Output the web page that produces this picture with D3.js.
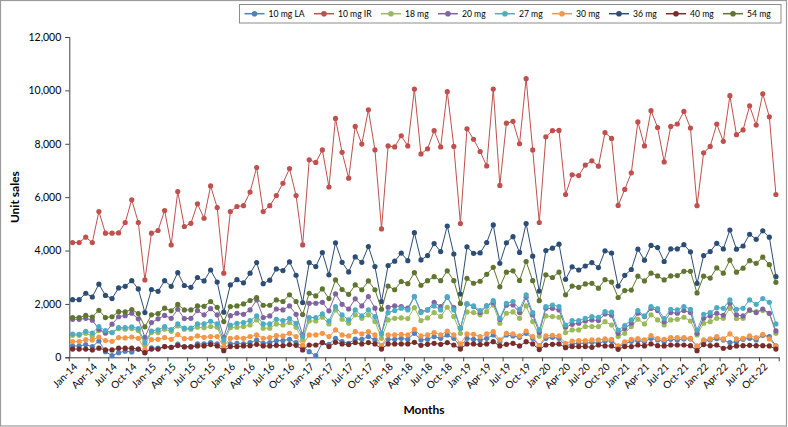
<!DOCTYPE html>
<html>
<head>
<meta charset="utf-8">
<script src="https://cdn.jsdelivr.net/npm/d3@7"></script>
<style>
  body { margin: 0; background: #fff; }
  svg text { font-family: Lato, "Liberation Sans", sans-serif; fill: #000; }
</style>
</head>
<body>
<div id="chart"></div>
<script>
// months Jan-14 .. Dec-22
const monthNames = ["Jan","Feb","Mar","Apr","May","Jun","Jul","Aug","Sep","Oct","Nov","Dec"];
const years = ["14","15","16","17","18","19","20","21","22"];
const months = years.flatMap(y => monthNames.map(m => `${m}-${y}`));

const seriesNames = ["10 mg LA","10 mg IR","18 mg","20 mg","27 mg","30 mg","36 mg","40 mg","54 mg"];
const seriesColors = ["#4F81BD","#C0504D","#9BBB59","#8064A2","#4BACC6","#F79646","#2C4D75","#772C2A","#5F7530"];

const la10 = [
  424,424,475,400,610,210,60,170,230,200,310,170,
  350,340,400,375,490,400,400,500,500,550,500,340,
  500,525,500,550,650,525,550,625,625,675,550,400,
  210,60,550,485,710,585,525,680,675,775,650,425,
  675,675,710,675,900,650,675,775,710,840,710,400,
  710,675,650,710,840,585,835,800,750,900,710,425,
  710,750,710,425,500,525,525,560,525,610,610,400,
  500,600,625,585,710,650,585,675,650,690,690,400,
  585,650,700,650,550,585,675,710,650,825,775,425];
const ir10 = [
  4300,4300,4500,4300,5460,4650,4650,4660,5050,5900,5050,2900,
  4650,4750,5500,4210,6210,4900,5020,5750,5210,6420,5610,3150,
  5460,5650,5680,6190,7110,5460,5680,6060,6520,7070,6060,4210,
  7400,7300,7770,6380,8950,7680,6710,8650,7990,9270,7770,4810,
  7920,7880,8300,7920,10050,7620,7810,8490,7880,9950,7900,5010,
  8560,8170,7710,7170,10050,6440,8770,8840,8000,10440,7770,5050,
  8260,8490,8500,6100,6840,6810,7200,7360,7160,8420,8200,5690,
  6290,6910,8820,7920,9240,8610,7320,8650,8740,9210,8590,5680,
  7660,7900,8740,8090,9800,8340,8520,9420,8700,9870,9010,6100];
const mg18 = [
  825,825,900,800,1000,900,925,1075,1050,1075,1000,460,
  925,925,1050,975,1175,1050,1050,1125,1110,1150,1125,550,
  1110,1125,1150,1210,1400,1090,1090,1250,1210,1300,1125,650,
  1360,1360,1500,1250,1775,1425,1275,1590,1460,1590,1340,710,
  1400,1460,1475,1450,1860,1375,1475,1675,1525,1875,1525,900,
  1700,1675,1590,1710,1960,1275,1650,1700,1460,1925,1340,790,
  1550,1525,1500,925,1025,1025,1150,1150,1150,1335,1210,775,
  900,1150,1425,1250,1590,1400,1210,1400,1425,1500,1360,840,
  1275,1335,1460,1460,1835,1450,1460,1750,1710,1750,1650,900];
const mg20 = [
  1424,1424,1460,1390,1050,920,1240,1520,1560,1650,1440,750,
  1300,1440,1570,1460,1800,1450,1460,1750,1590,1820,1590,750,
  1560,1650,1610,1775,2150,1490,1550,1810,1775,1925,1610,840,
  2025,2025,2060,1740,2375,1985,1810,2190,1925,2275,1840,900,
  1875,1925,1900,1840,2275,1710,1775,2060,1900,2250,1860,1090,
  2000,1900,1675,1925,2050,1420,1950,1960,1675,2250,1590,925,
  1835,1835,1775,1125,1235,1275,1360,1400,1375,1625,1575,900,
  1075,1275,1650,1525,1835,1750,1335,1675,1650,1750,1675,900,
  1460,1550,1650,1575,2025,1590,1550,1775,1675,1810,1650,987];
const mg27 = [
  873,860,975,910,1150,1000,925,1110,1110,1140,1075,550,
  985,1025,1150,1040,1250,1090,1090,1250,1250,1350,1250,650,
  1210,1275,1300,1375,1550,1250,1250,1425,1375,1450,1275,775,
  1490,1490,1625,1360,1900,1590,1400,1775,1550,1775,1525,875,
  1675,1750,1840,1775,2275,1675,1775,1925,1775,2275,1775,1090,
  2000,1925,1750,1925,2125,1460,2025,2090,1800,2335,1675,1025,
  1900,1960,1900,1210,1375,1375,1460,1525,1500,1710,1690,1020,
  1190,1400,1750,1550,1900,1825,1450,1800,1775,1900,1800,1020,
  1610,1675,1860,1835,2150,1800,1835,2150,1985,2200,2060,1250];
const mg30 = [
  590,590,660,650,760,625,600,740,725,760,710,300,
  660,675,740,675,850,700,710,800,750,775,775,400,
  710,735,710,775,840,710,735,810,800,900,775,450,
  840,840,900,775,1025,840,800,960,875,960,840,437,
  840,840,860,840,1050,800,840,925,840,985,840,500,
  875,860,775,875,960,650,900,875,800,985,775,440,
  800,825,800,525,610,625,625,650,650,690,675,425,
  575,675,700,650,810,700,675,735,735,735,710,425,
  650,690,775,690,875,690,710,800,735,860,690,400];
const mg36 = [
  2160,2160,2400,2260,2740,2320,2200,2600,2660,2870,2560,1675,
  2540,2470,2870,2660,3170,2690,2620,2990,2860,3270,2820,1690,
  2710,2910,2790,3150,3550,2760,2890,3310,3250,3574,3074,2050,
  3550,3400,3925,3090,4290,3560,3200,3760,3560,4150,3400,2090,
  3440,3600,3900,3620,4670,3650,3810,4260,3960,4920,3870,2370,
  4140,3890,3910,4300,4960,3520,4290,4520,3930,5010,3790,2480,
  4000,4090,4240,2920,3390,3270,3420,3550,3360,3990,3900,2670,
  3070,3290,4050,3640,4190,4110,3590,4060,4060,4220,3950,2770,
  3810,3960,4270,4060,4770,4050,4170,4610,4420,4740,4500,3020];
const mg40 = [
  310,310,310,275,340,275,275,340,340,340,310,175,
  310,310,400,375,440,390,390,425,425,475,425,250,
  400,400,425,437,485,425,425,450,437,475,450,275,
  460,460,550,400,560,500,475,550,500,550,500,310,
  500,500,500,500,560,450,485,525,485,550,460,310,
  500,500,475,500,585,425,485,525,425,585,500,290,
  460,485,500,360,400,400,400,375,460,425,425,300,
  400,400,460,425,500,437,425,460,460,460,437,250,
  475,437,460,335,375,425,437,450,437,437,425,310];
const mg54 = [
  1490,1490,1570,1510,1760,1490,1520,1710,1700,1790,1640,1140,
  1590,1640,1840,1740,1980,1775,1775,1925,1910,2090,1874,1340,
  1900,1925,2000,2125,2240,1950,1950,2150,2090,2340,2090,1600,
  2400,2300,2560,2200,2900,2540,2360,2710,2530,2860,2530,1800,
  2670,2530,2840,2760,3170,2700,2870,3020,2870,3240,2870,2020,
  2960,2775,2850,3110,3370,2640,3190,3240,2880,3590,2870,2120,
  3090,2990,3190,2340,2670,2620,2750,2770,2590,2910,2820,2240,
  2500,2520,3040,2860,3150,3050,2900,3050,3060,3220,3220,2410,
  3040,2970,3350,3150,3640,3190,3340,3620,3520,3750,3470,2810];

const seriesValues = [la10, ir10, mg18, mg20, mg27, mg30, mg36, mg40, mg54];
const yTicks = [0, 2000, 4000, 6000, 8000, 10000, 12000];
const labelMonths = months.filter((m, i) => i % 3 === 0);

const W = 788, H = 427;
const plot = { left: 69.3, right: 779.2, top: 37, bottom: 357.3 };

const svg = d3.select("#chart").append("svg")
    .attr("width", W)
    .attr("height", H);

// chart area border
svg.append("rect")
    .attr("x", 0.5).attr("y", 0.5)
    .attr("width", 786).attr("height", 425.5)
    .attr("fill", "#fff")
    .attr("stroke", "#9a9a9a")
    .attr("stroke-width", 1.2);

const x = d3.scalePoint()
    .domain(months)
    .range([plot.left, plot.right])
    .padding(0.5);

const y = d3.scaleLinear()
    .domain([0, 12000])
    .range([plot.bottom, plot.top]);

// y axis
svg.append("g")
    .attr("transform", `translate(${plot.left},0)`)
    .call(d3.axisLeft(y).tickValues(yTicks).tickFormat(d3.format(",")).tickSize(4).tickPadding(4))
    .call(g => g.select(".domain").attr("stroke", "#404040"))
    .call(g => g.selectAll(".tick line").attr("stroke", "#404040"))
    .call(g => g.selectAll("text").attr("font-size", "10.5px").attr("fill", "#000")
        .style("font-family", "Lato, 'Liberation Sans', sans-serif"));

// x axis: line + labels at category centres
const xAxis = svg.append("g")
    .attr("transform", `translate(0,${plot.bottom})`)
    .call(d3.axisBottom(x).tickValues(labelMonths).tickSize(0).tickPadding(0))
    .call(g => g.select(".domain").attr("stroke", "#404040"));

xAxis.selectAll(".tick text")
    .attr("font-size", "10px")
    .attr("fill", "#000")
    .style("font-family", "Lato, 'Liberation Sans', sans-serif")
    .attr("text-anchor", "end")
    .attr("x", 0).attr("y", 0).attr("dy", "0")
    .attr("transform", "translate(5,10) rotate(-45)");

// tick marks on category boundaries
const step = x.step();
const tickPos = labelMonths.map(m => x(m) - step / 2).concat([plot.right]);
svg.append("g").selectAll("line")
    .data(tickPos)
    .join("line")
    .attr("x1", d => d).attr("x2", d => d)
    .attr("y1", plot.bottom).attr("y2", plot.bottom + 4)
    .attr("stroke", "#404040");

// axis titles
svg.append("text")
    .attr("transform", `translate(19,${(plot.top + plot.bottom) / 2}) rotate(-90)`)
    .attr("text-anchor", "middle")
    .attr("font-size", "12px")
    .attr("font-weight", "bold")
    .text("Unit sales");

svg.append("text")
    .attr("x", 424).attr("y", 414)
    .attr("text-anchor", "middle")
    .attr("font-size", "12px")
    .attr("font-weight", "bold")
    .text("Months");

// series
const line = d3.line()
    .x((d, i) => x(months[i]))
    .y(d => y(d));

seriesValues.forEach((vals, s) => {
    const g = svg.append("g");
    g.append("path")
        .datum(vals)
        .attr("fill", "none")
        .attr("stroke", seriesColors[s])
        .attr("stroke-width", 1)
        .attr("d", line);
    g.selectAll("circle")
        .data(vals)
        .join("circle")
        .attr("cx", (d, i) => x(months[i]))
        .attr("cy", d => y(d))
        .attr("r", 2.6)
        .attr("fill", seriesColors[s]);
});

// legend - lay out items, then spread the spare room as gaps so the box ends near x=781
const legLeft = 239.5, legRight = 781;
const legend = svg.append("g");
const legBox = legend.append("rect")
    .attr("x", legLeft).attr("y", 4.5)
    .attr("width", legRight - legLeft).attr("height", 18.5)
    .attr("fill", "#fff")
    .attr("stroke", "#8c8c8c")
    .attr("stroke-width", 1);
const items = seriesNames.map((name, s) => {
    const it = legend.append("g");
    it.append("line").attr("x1", 0).attr("x2", 20).attr("stroke", seriesColors[s]).attr("stroke-width", 1.5);
    it.append("circle").attr("cx", 10).attr("r", 2.8).attr("fill", seriesColors[s]);
    const t = it.append("text").attr("x", 24).attr("dy", "0.35em").attr("font-size", "8.6px").text(name);
    return { g: it, w: 24 + t.node().getComputedTextLength() };
});
const used = d3.sum(items, d => d.w);
const gap = (legRight - legLeft - 6 - used) / items.length;
let lx = legLeft + 5;
items.forEach(d => {
    d.g.attr("transform", `translate(${lx},13.7)`);
    lx += d.w + gap;
});
</script>
</body>
</html>
